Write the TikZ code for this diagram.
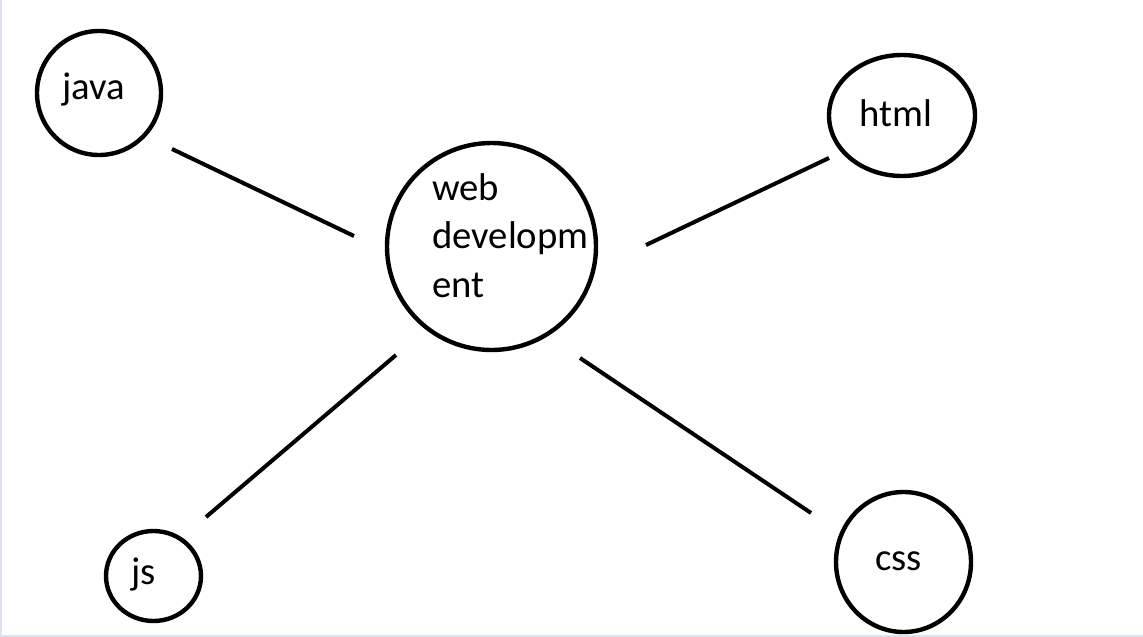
\documentclass[tikz,border=0pt]{standalone}
\usepackage{fontspec}
\setmainfont{Carlito}
\usetikzlibrary{shapes.geometric}
\definecolor{edgegray}{HTML}{DCE3EE}
\tikzset{
  bubble/.style={draw=black, line width=4.4pt, ellipse, inner sep=0pt},
  word/.style={inner sep=0pt, anchor=base west, font=\fontsize{38.7}{46}\selectfont, text=black},
  link/.style={draw=black, line width=4pt}
}
\begin{document}
\begin{tikzpicture}[x=1pt,y=-1pt]
\useasboundingbox (0,0) rectangle (1143,637);
\fill[white] (0,0) rectangle (1143,637);
\fill[edgegray] (0,0) rectangle (2,637);
\fill[edgegray] (0,635) rectangle (1143,637);
% bubbles
\node[bubble, minimum width=124pt, minimum height=124pt] (java) at (99,93) {};
\node[bubble, minimum width=209pt, minimum height=207pt] (web) at (491.5,246.5) {};
\node[bubble, minimum width=146pt, minimum height=121pt] (html) at (902,115.5) {};
\node[bubble, minimum width=95pt, minimum height=90pt] (js) at (153.5,576) {};
\node[bubble, minimum width=135pt, minimum height=140pt] (css) at (903.5,562) {};
% texts
\node[word] (tjava) at (62,99) {java};
\node[word] (thtml) at (859,126) {html};
\node[word] (tjs) at (131,584) {js};
\node[word] (tcss) at (875,570) {css};
\node[word] (tweb1) at (432,200) {web};
\node[word] (tweb2) at (432,248.5) {developm};
\node[word] (tweb3) at (432,297) {ent};
% connectors
\coordinate (ja) at (172,149); \coordinate (jb) at (354,236);
\coordinate (ha) at (646,245); \coordinate (hb) at (829,158);
\coordinate (sa) at (206,517); \coordinate (sb) at (396,355);
\coordinate (ca) at (580,358); \coordinate (cb) at (811,513);
\draw[link] (ja) -- (jb);
\draw[link] (ha) -- (hb);
\draw[link] (sa) -- (sb);
\draw[link] (ca) -- (cb);
\end{tikzpicture}
\end{document}
